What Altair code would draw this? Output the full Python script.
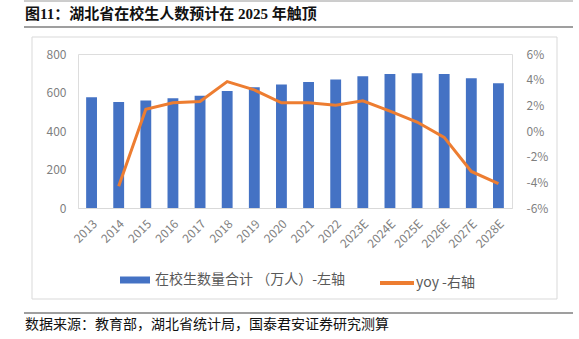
import altair as alt
import pandas as pd

years = ["2013", "2014", "2015", "2016", "2017", "2018", "2019", "2020",
         "2021", "2022", "2023E", "2024E", "2025E", "2026E", "2027E", "2028E"]
students = [575, 551, 559, 570, 583, 608, 627, 641, 655, 668, 684, 696, 700, 696, 674, 648]
yoy = [None, -4.3, 1.7, 2.2, 2.3, 3.85, 3.2, 2.2, 2.2, 2.0, 2.35, 1.55, 0.7, -0.5, -3.15, -4.1]

bar_name = "在校生数量合计 （万人）-左轴"
line_name = "yoy -右轴"
title_text = "图11：湖北省在校生人数预计在 2025 年触顶"
source_text = "数据来源：教育部，湖北省统计局，国泰君安证券研究测算"

W, H = 434, 154
OX, OY = 78, 54

df = pd.DataFrame({"year": years, "students": students, "yoy": yoy})
df["bar_s"] = bar_name
df["line_s"] = line_name

FONT = "Noto Sans CJK SC"
LAB = "#7f7f7f"

x_enc = alt.X("year:N", sort=None, title=None,
              scale=alt.Scale(paddingInner=0.6),
              axis=alt.Axis(labelAngle=-45, labelFontSize=12, labelColor=LAB, labelFont=FONT,
                            ticks=False, domain=True, domainColor="#d9d9d9", labelPadding=10))

bars = alt.Chart(df).mark_bar(color="#4472C4").encode(
    x=x_enc,
    y=alt.Y("students:Q", title=None,
            scale=alt.Scale(domain=[0, 800], nice=False),
            axis=alt.Axis(values=[0, 200, 400, 600, 800], labelFontSize=12, labelColor=LAB,
                          labelFont=FONT, ticks=False, domain=False, grid=False, labelPadding=12)),
    color=alt.Color("bar_s:N", scale=alt.Scale(domain=[bar_name], range=["#4472C4"]),
                    legend=alt.Legend(orient="none", legendX=41, legendY=210, title=None,
                                      symbolType="M-1,-0.233H1V0.233H-1Z", symbolSize=900,
                                      labelFontSize=14, labelColor="#595959", labelFont=FONT,
                                      labelOffset=4, labelLimit=0)),
)

line = alt.Chart(df).transform_filter("datum.yoy != null").mark_line(strokeWidth=3).encode(
    x=alt.X("year:N", sort=years),
    y=alt.Y("yoy:Q", title=None,
            scale=alt.Scale(domain=[-6, 6], nice=False),
            axis=alt.Axis(orient="right", values=[-6, -4, -2, 0, 2, 4, 6],
                          labelExpr="datum.value + '%'", labelFontSize=12, labelColor=LAB,
                          labelFont=FONT, ticks=False, domain=False, grid=False, labelPadding=14)),
    stroke=alt.Stroke("line_s:N", scale=alt.Scale(domain=[line_name], range=["#ED7D31"]),
                      legend=alt.Legend(orient="none", legendX=300, legendY=210, title=None,
                                        symbolType="stroke", symbolSize=1156, symbolStrokeWidth=4,
                                        labelFontSize=14, labelColor="#595959", labelFont=FONT,
                                        labelOffset=0, labelLimit=0)),
)

one = pd.DataFrame({"t": [title_text]})
src = pd.DataFrame({"t": [source_text]})

box = alt.Chart(one).mark_rect(fill=None, stroke="#d9d9d9", strokeWidth=1).encode(
    x=alt.value(32 - OX), x2=alt.value(557 - OX), y=alt.value(37 - OY), y2=alt.value(299 - OY))
top_rule = alt.Chart(one).mark_rule(color="#9a9a9a", strokeWidth=1).encode(
    x=alt.value(24 - OX), x2=alt.value(573 - OX), y=alt.value(1 - OY))
title_rule = alt.Chart(one).mark_rule(color="#7f7f7f", strokeWidth=1.5).encode(
    x=alt.value(24 - OX), x2=alt.value(573 - OX), y=alt.value(27 - OY))
foot_rule = alt.Chart(one).mark_rule(color="#7f7f7f", strokeWidth=1.5).encode(
    x=alt.value(24 - OX), x2=alt.value(573 - OX), y=alt.value(313 - OY))
title = alt.Chart(one).mark_text(align="left", baseline="middle", fontSize=15, fontWeight="bold",
                                 font="Liberation Serif, Noto Sans CJK SC", color="#111111").encode(
    text="t:N", x=alt.value(25 - OX), y=alt.value(14 - OY))
source = alt.Chart(src).mark_text(align="left", baseline="middle", fontSize=14,
                                  font="Liberation Serif, Noto Sans CJK SC", color="#111111").encode(
    text="t:N", x=alt.value(25 - OX), y=alt.value(325 - OY))

chart = alt.layer(bars, line, box, top_rule, title_rule, foot_rule, title, source).resolve_scale(
    y="independent"
).properties(
    width=W, height=H,
    autosize=alt.AutoSizeParams(type="none"),
    padding={"left": OX, "top": OY, "right": 579 - OX - W, "bottom": 339 - OY - H},
).configure_view(stroke=None).configure(background="white")

chart.save("out.html", embed_options={"renderer": "svg", "actions": False})
